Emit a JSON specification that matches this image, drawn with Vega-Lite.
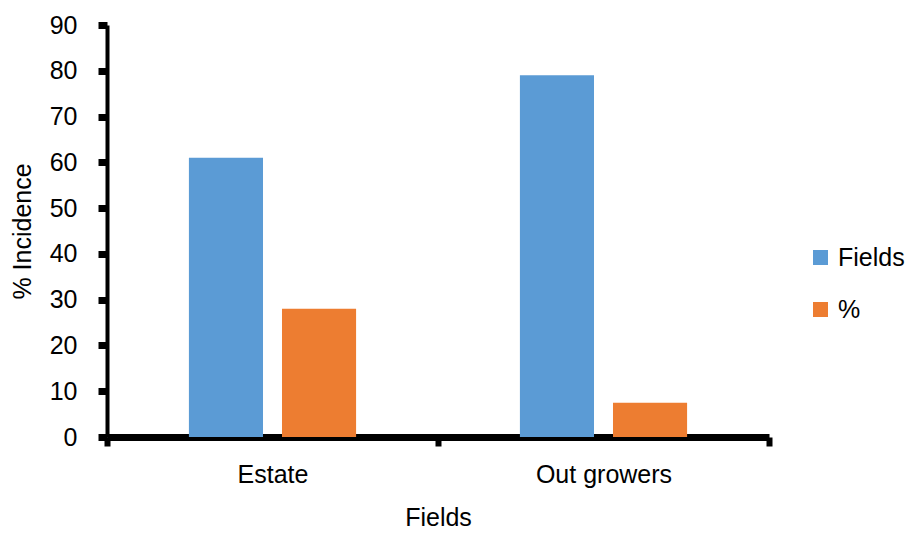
{
  "$schema": "https://vega.github.io/schema/vega-lite/v6.json",
  "width": 662,
  "height": 412,
  "autosize": {"type": "none"},
  "padding": {"left": 107, "top": 25, "right": 137, "bottom": 96},
  "background": "white",
  "config": {
    "view": {"stroke": null},
    "font": "Liberation Sans",
    "axis": {
      "labelFont": "Liberation Sans",
      "titleFont": "Liberation Sans",
      "labelFontSize": 25,
      "titleFontSize": 25,
      "labelColor": "#000",
      "titleColor": "#000",
      "titleFontWeight": "normal",
      "domainColor": "#000",
      "tickColor": "#000",
      "grid": false
    },
    "legend": {
      "labelFont": "Liberation Sans",
      "labelFontSize": 25,
      "labelColor": "#000"
    }
  },
  "data": {
    "values": [
      {"field": "Estate", "series": "Fields", "value": 61},
      {"field": "Estate", "series": "%", "value": 28},
      {"field": "Out growers", "series": "Fields", "value": 79},
      {"field": "Out growers", "series": "%", "value": 7.5}
    ]
  },
  "mark": {"type": "bar"},
  "encoding": {
    "x": {
      "field": "field",
      "type": "nominal",
      "sort": ["Estate", "Out growers"],
      "scale": {"paddingInner": 0, "paddingOuter": 0},
      "axis": {
        "title": "Fields",
        "labelAngle": 0,
        "tickBand": "extent",
        "tickSize": 9,
        "tickWidth": 6,
        "domainWidth": 7,
        "labelPadding": 16,
        "titlePadding": 18
      }
    },
    "xOffset": {
      "field": "series",
      "type": "nominal",
      "sort": ["Fields", "%"],
      "scale": {"paddingInner": 0.204, "paddingOuter": 0.88}
    },
    "y": {
      "field": "value",
      "type": "quantitative",
      "scale": {"domain": [0, 90], "nice": false},
      "axis": {
        "title": "% Incidence",
        "values": [0, 10, 20, 30, 40, 50, 60, 70, 80, 90],
        "tickSize": 9,
        "tickWidth": 7,
        "domainWidth": 4,
        "labelPadding": 21,
        "titlePadding": 14
      }
    },
    "color": {
      "field": "series",
      "type": "nominal",
      "sort": ["Fields", "%"],
      "scale": {"domain": ["Fields", "%"], "range": ["#5B9BD5", "#ED7D31"]},
      "legend": {
        "title": null,
        "orient": "none",
        "legendX": 701,
        "legendY": 220,
        "padding": 0,
        "symbolType": "square",
        "symbolSize": 225,
        "symbolStrokeWidth": 0,
        "labelOffset": 5,
        "rowPadding": 26
      }
    }
  }
}
